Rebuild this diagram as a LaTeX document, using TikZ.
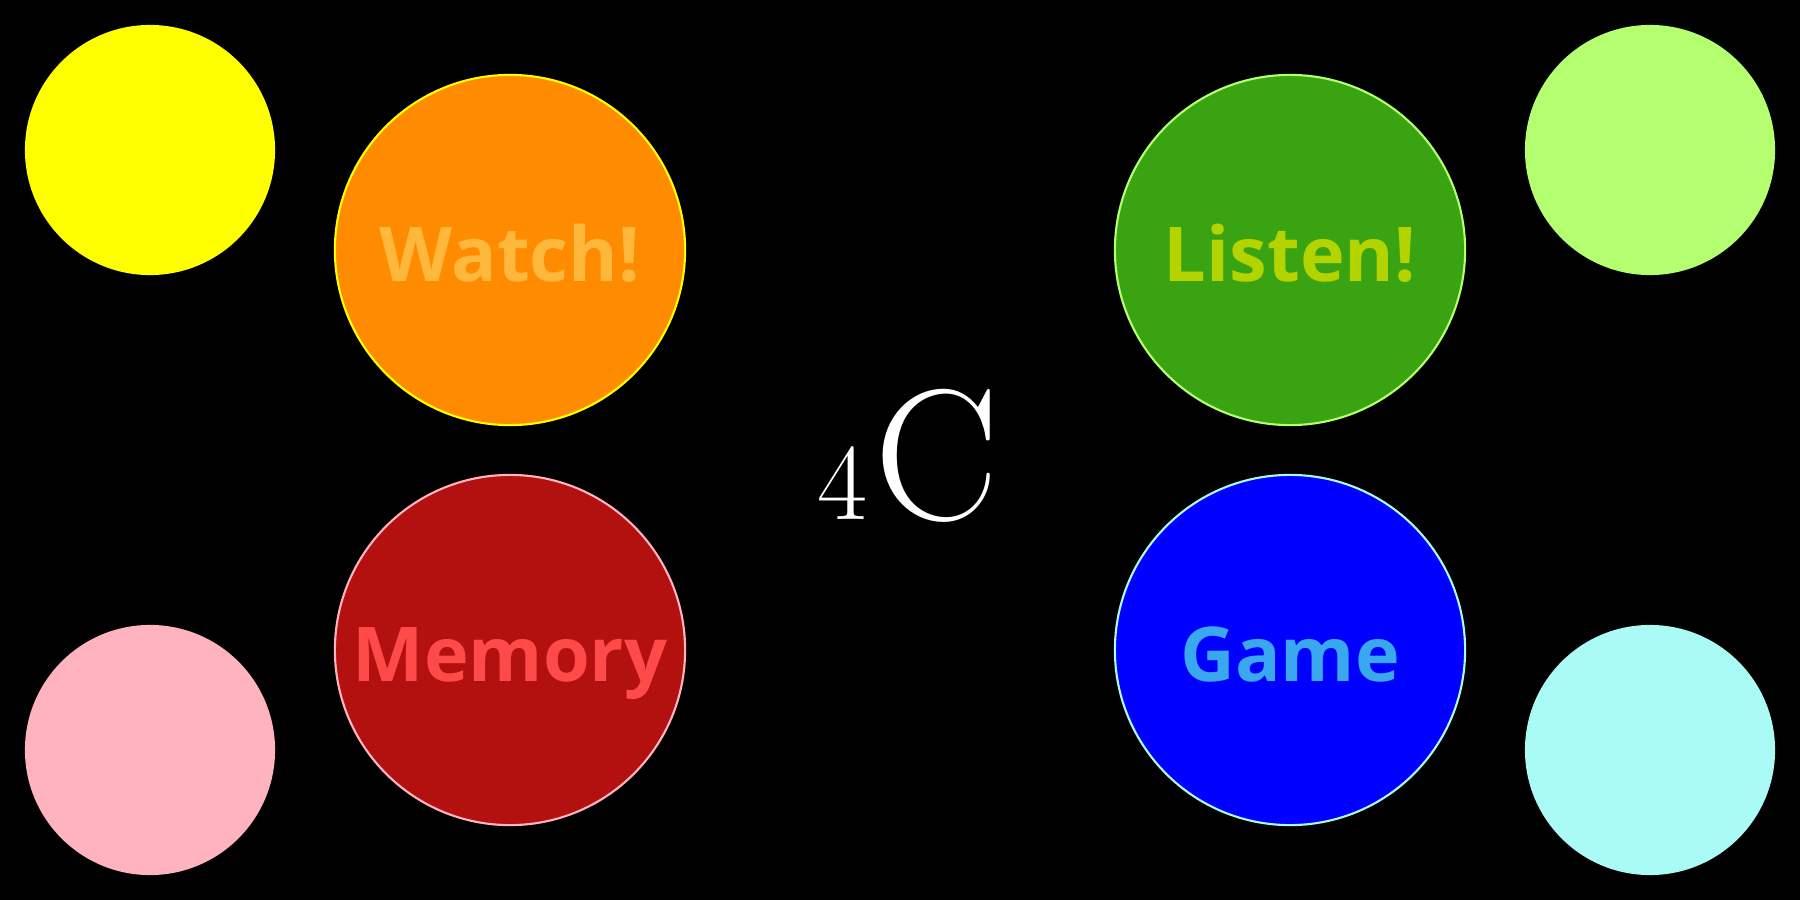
\documentclass[tikz,border=0pt]{standalone}
\usepackage{fontspec}
\setsansfont{Open Sans}
\usepackage{xcolor}
\definecolor{dotyellow}{HTML}{FFFF00}
\definecolor{dotgreen}{HTML}{B3FF70}
\definecolor{dotpink}{HTML}{FFB3BE}
\definecolor{dotcyan}{HTML}{AAFAF5}
\definecolor{watchfill}{HTML}{FF8C00}
\definecolor{watchtext}{HTML}{FFB83C}
\definecolor{listenfill}{HTML}{3AA312}
\definecolor{listentext}{HTML}{B3D400}
\definecolor{memfill}{HTML}{B31010}
\definecolor{memtext}{HTML}{FF4A4A}
\definecolor{gamefill}{HTML}{0000FF}
\definecolor{gametext}{HTML}{3AA8F0}

\begin{document}
\begin{tikzpicture}[x=0.01cm,y=-0.01cm,line width=0.6pt,
  dot/.style={circle,minimum size=2.5cm,inner sep=0pt},
  task/.style={circle,minimum size=3.5cm,inner sep=0pt,text height=18pt,text depth=0pt,
    font=\sffamily\bfseries\fontsize{21.5}{22}\selectfont}]
  \fill[black] (0,0) rectangle (1800,900);
  \useasboundingbox (0,0) rectangle (1800,900);

  \node[dot,fill=dotyellow]	(Y) at (150,150) {};
  \node[dot,fill=dotpink]	(P) at (150,750) {};
  \node[dot,fill=dotgreen]	(G) at (1650,150) {};
  \node[dot,fill=dotcyan]	(T) at (1650,750) {};

  \node[task,fill=watchfill,draw=dotyellow,text=watchtext]	(watch)  at (510,250)  {Watch!};
  \node[task,fill=memfill,draw=dotpink,text=memtext]		(memory) at (510,650)  {Memory};
  \node[task,fill=listenfill,draw=dotgreen,text=listentext]	(listen) at (1290,250) {Listen!};
  \node[task,fill=gamefill,draw=dotcyan,text=gametext]		(game)   at (1290,650) {Game};

  \node[text=white,anchor=base west,inner sep=0pt] (title) at (816,519)
    {{\fontsize{31}{31}\selectfont 4}\kern2pt{\fontsize{53}{53}\selectfont C}};
\end{tikzpicture}
\end{document}
